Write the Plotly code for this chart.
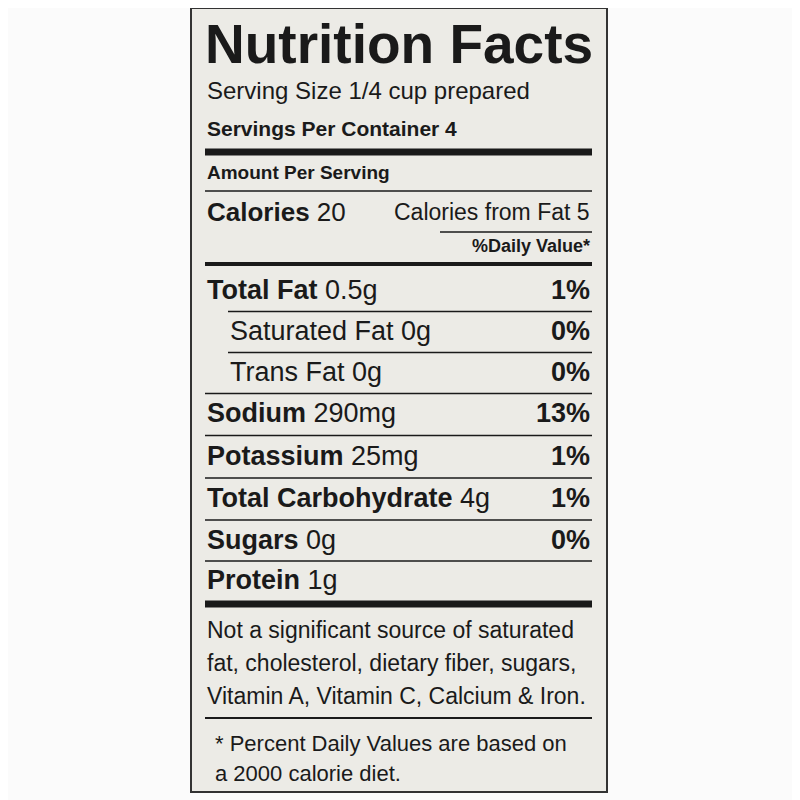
import plotly.graph_objects as go

# label content
title = "Nutrition Facts"
serving_size = "Serving Size 1/4 cup prepared"
servings = "Servings Per Container 4"
calories = 20
calories_fat = 5
nutrients = ["Total Fat", "Saturated Fat", "Trans Fat", "Sodium", "Potassium",
             "Total Carbohydrate", "Sugars", "Protein"]
amounts = ["0.5g", "0g", "0g", "290mg", "25mg", "4g", "0g", "1g"]
daily_values = ["1%", "0%", "0%", "13%", "1%", "1%", "0%", ""]
is_sub = [False, True, True, False, False, False, False, False]
note_lines = ["Not a significant source of saturated",
              "fat, cholesterol, dietary fiber, sugars,",
              "Vitamin A, Vitamin C, Calcium & Iron."]
foot_lines = ["* Percent Daily Values are based on",
              "a 2000 calorie diet."]

FONT = "Liberation Sans, Arial"
INK = "#1a1a1a"
L, R = 205, 592

fig = go.Figure()
ann = []
shapes = []

def text(x, y, s, size=24, bold=False, anchor="left"):
    ann.append(dict(x=x, y=y, text=f"<b>{s}</b>" if bold else s, showarrow=False,
                    xanchor=anchor, yanchor="middle",
                    font=dict(family=FONT, size=size, color=INK)))

def rule(y, w=1.5, x0=L, x1=R):
    shapes.append(dict(type="line", x0=x0, x1=x1, y0=y, y1=y,
                       line=dict(color=INK, width=w)))

# label panel
shapes.append(dict(type="rect", x0=191, x1=607, y0=8, y1=792,
                   fillcolor="#ecebe6", line=dict(color="#333", width=2), layer="below"))

text(L - 2, 44, title, size=55, bold=True)
text(L, 90, serving_size, size=24)
text(L, 128, servings, size=21, bold=True)
rule(152, 7)
text(L, 172, "Amount Per Serving", size=19, bold=True)
rule(191, 1.5)
text(L, 212, f"Calories {calories}".replace("Calories", "<b>Calories</b>"), size=26)
text(R, 212, f"Calories from Fat {calories_fat}", size=23, anchor="right")
rule(232, 1.5, 440, R)
text(R, 246, "%Daily Value*", size=18, bold=True, anchor="right")
rule(264, 4)

row_y = [290, 331, 372, 413, 456, 498, 540, 580]
for i, (n, a, d) in enumerate(zip(nutrients, amounts, daily_values)):
    y = row_y[i]
    x = 228 if is_sub[i] else L
    label = n if is_sub[i] else f"<b>{n}</b>"
    ann.append(dict(x=x, y=y, text=f"{label} {a}", showarrow=False, xanchor="left",
                    yanchor="middle", font=dict(family=FONT, size=27, color=INK)))
    if d:
        text(R, y, d, size=27, bold=True, anchor="right")
    if i < len(nutrients) - 1:
        sub_line = is_sub[i + 1]
        rule((y + row_y[i + 1]) / 2 + 1, 1.5, 228 if sub_line else L, R)

rule(604, 7)
for k, s in enumerate(note_lines):
    text(L, 630 + 33 * k, s, size=23)
rule(718, 2)
for k, s in enumerate(foot_lines):
    text(L + 8, 743 + 30 * k, s, size=22)

# page body has an 8px margin; shift ranges so label lands at intended pixels
fig.update_layout(width=800, height=800, margin=dict(l=0, r=0, t=0, b=0),
                  paper_bgcolor="#fbfbfb", plot_bgcolor="#fbfbfb",
                  xaxis=dict(range=[8, 808], visible=False, fixedrange=True),
                  yaxis=dict(range=[808, 8], visible=False, fixedrange=True),
                  annotations=ann, shapes=shapes, showlegend=False)
fig.write_html("out.html")
